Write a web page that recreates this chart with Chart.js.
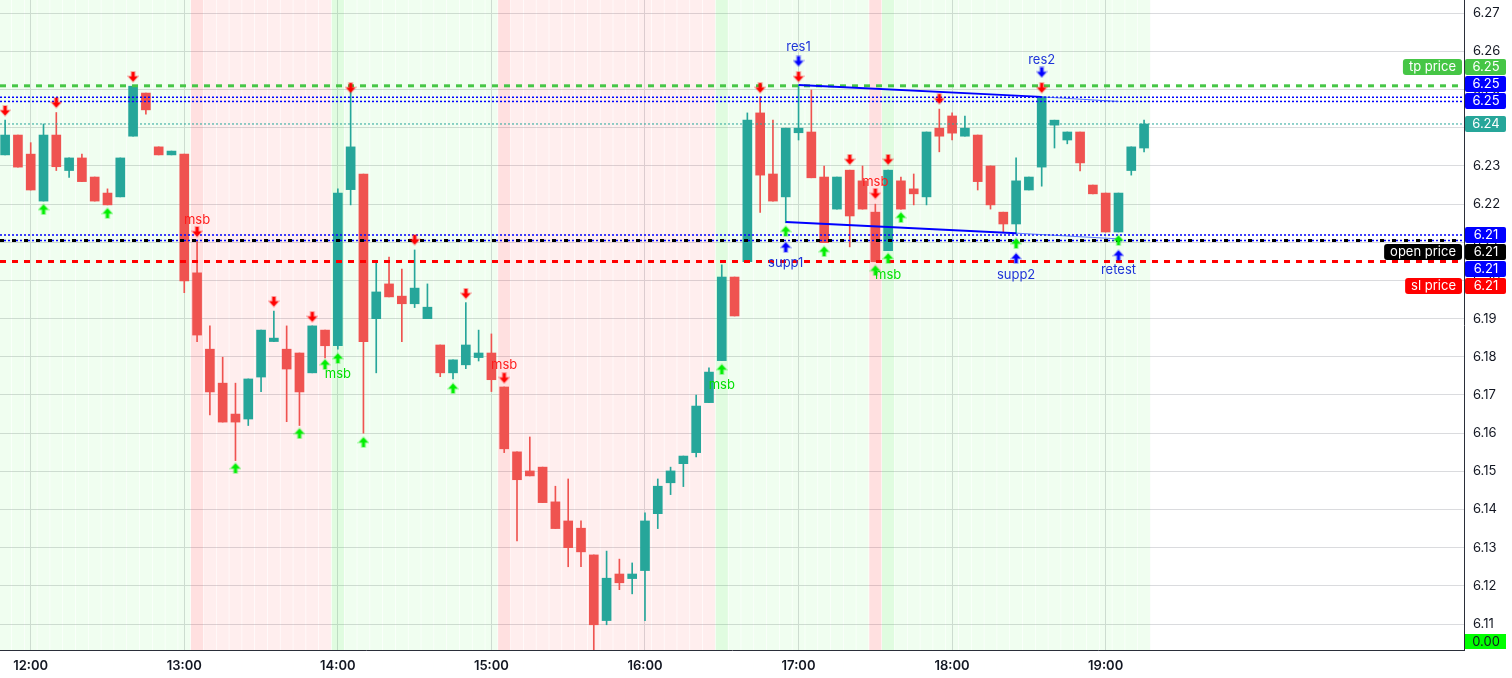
<!DOCTYPE html>
<html>
<head>
<meta charset="utf-8">
<script src="https://cdn.jsdelivr.net/npm/chart.js@4.4.1/dist/chart.umd.min.js"></script>
<style>
  html, body { margin: 0; padding: 0; background: #fff; }
  canvas { display: block; }
</style>
</head>
<body>
<canvas id="chart" width="1512" height="678"></canvas>
<script>
// 5 minute candles, first one at 11:50 (minutes since midnight)
const startMinute = 710;
const stepMinutes = 5;

const opens = [6.2329,6.2381,6.2331,6.2208,6.2381,6.2288,6.2321,6.2271,6.2229,6.2219,
  6.2378,6.2491,6.2350,6.2329,6.2331,6.2020,6.1820,6.1731,6.1650,6.1637,
  6.1747,6.1840,6.1820,6.1810,6.1758,6.1870,6.1829,6.2238,6.2279,6.1900,
  6.1991,6.1959,6.1939,6.1900,6.1831,6.1758,6.1779,6.1798,6.1810,6.1721,
  6.1551,6.1501,6.1511,6.1420,6.1370,6.1351,6.1281,6.1109,6.1231,6.1219,
  6.1240,6.1389,6.1470,6.1520,6.1549,6.1680,6.1790,6.2009,6.2049,6.2439,
  6.2279,6.2219,6.2387,6.2389,6.2271,6.2187,6.2289,6.2261,6.2179,6.2078,
  6.2261,6.2240,6.2219,6.2399,6.2431,6.2378,6.2381,6.2300,6.2179,6.2148,
  6.2237,6.2297,6.2407,6.2368,6.2389,6.2250,6.2229,6.2127,6.2288,6.2347];
const highs = [6.2420,6.2381,6.2361,6.2410,6.2440,6.2321,6.2331,6.2271,6.2240,6.2321,
  6.2509,6.2491,6.2350,6.2339,6.2331,6.2103,6.1881,6.1799,6.1731,6.1742,
  6.1870,6.1920,6.1881,6.1810,6.1881,6.1870,6.2240,6.2500,6.2279,6.2047,
  6.2061,6.2030,6.2080,6.1991,6.1831,6.1792,6.1942,6.1870,6.1860,6.1721,
  6.1551,6.1590,6.1511,6.1461,6.1480,6.1370,6.1281,6.1291,6.1270,6.1260,
  6.1391,6.1480,6.1511,6.1540,6.1700,6.1771,6.2041,6.2009,6.2439,6.2481,
  6.2420,6.2399,6.2512,6.2499,6.2300,6.2271,6.2289,6.2300,6.2200,6.2289,
  6.2271,6.2279,6.2389,6.2449,6.2439,6.2431,6.2381,6.2300,6.2179,6.2321,
  6.2271,6.2481,6.2420,6.2389,6.2389,6.2250,6.2229,6.2229,6.2350,6.2420];
const lows = [6.2329,6.2297,6.2237,6.2208,6.2288,6.2270,6.2259,6.2208,6.2198,6.2219,
  6.2378,6.2436,6.2329,6.2329,6.1968,6.1840,6.1648,6.1629,6.1528,6.1620,
  6.1709,6.1840,6.1630,6.1620,6.1758,6.1797,6.1820,6.2198,6.1600,6.1758,
  6.1957,6.1840,6.1929,6.1900,6.1748,6.1742,6.1769,6.1789,6.1709,6.1549,
  6.1318,6.1488,6.1418,6.1350,6.1250,6.1250,6.1010,6.1098,6.1190,6.1179,
  6.1109,6.1350,6.1439,6.1460,6.1538,6.1680,6.1790,6.1907,6.2049,6.2178,
  6.2208,6.2151,6.2368,6.2269,6.2099,6.2187,6.2088,6.2187,6.2049,6.2078,
  6.2187,6.2198,6.2198,6.2337,6.2368,6.2378,6.2237,6.2187,6.2127,6.2122,
  6.2237,6.2247,6.2347,6.2358,6.2287,6.2227,6.2127,6.2127,6.2276,6.2337];
const closes = [6.2381,6.2297,6.2237,6.2381,6.2298,6.2321,6.2259,6.2208,6.2198,6.2321,
  6.2509,6.2447,6.2329,6.2339,6.1999,6.1857,6.1708,6.1629,6.1629,6.1742,
  6.1870,6.1849,6.1768,6.1708,6.1881,6.1829,6.2229,6.2350,6.1840,6.1970,
  6.1957,6.1939,6.1980,6.1930,6.1758,6.1792,6.1831,6.1810,6.1740,6.1559,
  6.1478,6.1488,6.1418,6.1350,6.1300,6.1289,6.1098,6.1220,6.1208,6.1231,
  6.1370,6.1461,6.1501,6.1540,6.1671,6.1760,6.2009,6.1907,6.2420,6.2276,
  6.2208,6.2399,6.2399,6.2269,6.2099,6.2271,6.2169,6.2187,6.2049,6.2289,
  6.2187,6.2227,6.2389,6.2378,6.2386,6.2399,6.2259,6.2198,6.2148,6.2261,
  6.2271,6.2481,6.2420,6.2389,6.2308,6.2227,6.2127,6.2229,6.2350,6.2410];

// signals (candle index + price where the marker sits)
const sellIdx = [0,4,10,15,21,24,27,32,36,39,59,62,66,68,69,73,81];
const sellPrice = [6.2444,6.2465,6.2533,6.2127,6.1944,6.1904,6.2504,6.2106,6.1965,6.1744,6.2504,6.2533,6.2316,6.2227,6.2316,6.2475,6.2504];
const buyIdx = [3,8,18,23,25,26,28,35,56,61,64,68,69,70,79,87];
const buyPrice = [6.2187,6.2177,6.1509,6.1600,6.1781,6.1797,6.1577,6.1718,6.1768,6.2130,6.2077,6.2027,6.2059,6.2166,6.2098,6.2106];

const resIdx = [62, 81];
const resArrowPrice = [6.2574, 6.2545];
const resText = ['res1', 'res2'];
const resTextPrice = [6.2612, 6.2578];
const suppIdx = [61, 79, 87];
const suppArrowPrice = [6.2088, 6.2059, 6.2067];
const suppText = ['supp1', 'supp2', 'retest'];
const suppTextPrice = [6.2046, 6.2014, 6.2027];

const bearMsbIdx = [15, 39, 68];
const bearMsbPrice = [6.2158, 6.1779, 6.2258];
const bullMsbIdx = [26, 56, 69];
const bullMsbPrice = [6.1755, 6.1726, 6.2014];

// trend lines
const resLineIdx = [62, 81, 87];
const resLineVal = [6.2512, 6.2481, 6.2469];
const suppLineIdx = [61, 79, 87];
const suppLineVal = [6.2153, 6.2124, 6.2109];

// horizontal levels
const lastClose = closes[closes.length - 1];
const levelValues = [6.2510, 6.2480, 6.2469, lastClose, 6.2119, 6.2105, 6.2105, 6.2050];
const levelTags = ['tp price', '', '', '', '', 'open price', '', 'sl price'];
const lastLevel = 3;

const priceTicks = [6.11,6.12,6.13,6.14,6.15,6.16,6.17,6.18,6.19,6.20,6.21,6.22,6.23,6.24,6.25,6.26,6.27];
const hourTicks = [720, 780, 840, 900, 960, 1020, 1080, 1140];

const yMin = 6.10319, yMax = 6.27348;
const xMin = 708, xMax = 1280;

const up = '#26a69a', down = '#ef5350';
const blue = '#0000ff';
const levelStyles = [
  { color: '#46c646', dash: [6, 6], width: 3 },
  { color: blue, dash: [2, 2], width: 1.5 },
  { color: blue, dash: [2, 2], width: 1.5 },
  { color: up, dash: [2, 2], width: 1 },
  { color: blue, dash: [2, 2], width: 1.5 },
  { color: '#000000', dash: [4, 8], width: 3 },
  { color: blue, dash: [2, 2], width: 1.5 },
  { color: '#ff0000', dash: [6, 6], width: 3 }
];

const timeOf = i => startMinute + stepMinutes * i;
const font = 'Inter, "Noto Sans", sans-serif';
Chart.defaults.font.family = font;

function arrowImage(color, pointUp) {
  let c = document.createElement('canvas');
  c.width = 12; c.height = 12;
  let g = c.getContext('2d');
  if (pointUp) { g.translate(0, 12); g.scale(1, -1); }
  g.beginPath();
  g.moveTo(4.5, 1); g.lineTo(7.5, 1); g.lineTo(7.5, 5.5); g.lineTo(10.5, 5.5);
  g.lineTo(6, 10.5); g.lineTo(1.5, 5.5); g.lineTo(4.5, 5.5); g.closePath();
  g.globalAlpha = 0.3;
  g.strokeStyle = color; g.lineWidth = 2; g.stroke();
  g.globalAlpha = 1;
  g.fillStyle = color; g.fill();
  return c;
}

// background zone of each candle
let bandColors = [];
let zone = 'bull';
for (let i = 0; i < opens.length; i++) {
  if (bearMsbIdx.includes(i)) { zone = 'bear'; bandColors.push('rgba(255, 0, 0, 0.12)'); }
  else if (bullMsbIdx.includes(i)) { zone = 'bull'; bandColors.push('rgba(0, 230, 0, 0.12)'); }
  else bandColors.push(zone === 'bull' ? 'rgba(0, 230, 0, 0.06)' : 'rgba(255, 0, 0, 0.065)');
}
let candleColors = opens.map((o, i) => closes[i] >= o ? up : down);

function points(idx, vals) {
  return idx.map((k, j) => ({ x: timeOf(k), y: vals[j] }));
}

let datasets = [];
datasets.push({
  type: 'bar', order: 100, grouped: false, barThickness: 11.6,
  data: opens.map((o, i) => ({ x: timeOf(i), y: [yMin, yMax] })),
  backgroundColor: bandColors
});
datasets.push({
  type: 'bar', order: 40, grouped: false, barThickness: 1,
  data: opens.map((o, i) => ({ x: timeOf(i), y: [lows[i], highs[i]] })),
  backgroundColor: candleColors
});
datasets.push({
  type: 'bar', order: 30, grouped: false, barThickness: 9, minBarLength: 1,
  data: opens.map((o, i) => ({ x: timeOf(i), y: [o, closes[i]] })),
  backgroundColor: candleColors
});
levelValues.forEach((v, i) => {
  let st = levelStyles[i];
  datasets.push({
    type: 'line', order: i === 6 ? 21 : 20, pointRadius: 0,
    data: [{ x: xMin, y: v }, { x: xMax, y: v }],
    borderColor: st.color, borderDash: st.dash, borderWidth: st.width
  });
});
[[resLineIdx, resLineVal], [suppLineIdx, suppLineVal]].forEach(([idx, vals]) => {
  datasets.push({
    type: 'line', order: 12, pointRadius: 0, borderColor: blue, borderWidth: 2,
    data: points(idx.slice(0, 2), vals.slice(0, 2))
  });
  datasets.push({
    type: 'line', order: 12, pointRadius: 0, borderColor: 'rgba(40, 70, 255, 0.7)', borderWidth: 1,
    data: points(idx.slice(1), vals.slice(1))
  });
});
const markerSets = [
  [sellIdx, sellPrice, arrowImage('#ff0000', false)],
  [buyIdx, buyPrice, arrowImage('#00ee00', true)],
  [resIdx, resArrowPrice, arrowImage(blue, false)],
  [suppIdx, suppArrowPrice, arrowImage(blue, true)]
];
markerSets.forEach(([idx, vals, img]) => {
  datasets.push({
    type: 'line', order: 5, showLine: false, clip: false,
    data: points(idx, vals), pointStyle: img, pointRadius: 6
  });
});

// text labels next to the markers
const textLabels = [];
resIdx.forEach((k, j) => textLabels.push([k, resTextPrice[j], resText[j], '#1d33d8']));
suppIdx.forEach((k, j) => textLabels.push([k, suppTextPrice[j], suppText[j], '#1d33d8']));
bearMsbIdx.forEach((k, j) => textLabels.push([k, bearMsbPrice[j], 'msb', '#ff1a1a']));
bullMsbIdx.forEach((k, j) => textLabels.push([k, bullMsbPrice[j], 'msb', '#00e000']));

const textPlugin = {
  id: 'texts',
  afterDatasetsDraw(chart) {
    let ctx = chart.ctx, xs = chart.scales.x, ys = chart.scales.y;
    ctx.save();
    ctx.font = '13px ' + font;
    ctx.textAlign = 'center';
    ctx.textBaseline = 'middle';
    textLabels.forEach(([k, v, t, c]) => {
      ctx.fillStyle = c;
      ctx.fillText(t, xs.getPixelForValue(timeOf(k)), ys.getPixelForValue(v));
    });
    ctx.restore();
  }
};

function roundBox(ctx, x, y, w, h, r, color) {
  ctx.beginPath();
  ctx.moveTo(x + r, y);
  ctx.lineTo(x + w - r, y); ctx.quadraticCurveTo(x + w, y, x + w, y + r);
  ctx.lineTo(x + w, y + h - r); ctx.quadraticCurveTo(x + w, y + h, x + w - r, y + h);
  ctx.lineTo(x + r, y + h); ctx.quadraticCurveTo(x, y + h, x, y + h - r);
  ctx.lineTo(x, y + r); ctx.quadraticCurveTo(x, y, x + r, y);
  ctx.closePath();
  ctx.fillStyle = color;
  ctx.fill();
}

const tagH = 17;
const tagsPlugin = {
  id: 'tags',
  afterDraw(chart) {
    let ctx = chart.ctx, ys = chart.scales.y, area = chart.chartArea;
    let items = levelValues.map((v, i) => ({ i, y: ys.getPixelForValue(v) }));
    items.sort((a, b) => a.y - b.y);
    let a = items.findIndex(it => it.i === lastLevel);
    for (let k = a - 1; k >= 0; k--) items[k].y = Math.min(items[k].y, items[k + 1].y - tagH);
    for (let k = a + 1; k < items.length; k++) items[k].y = Math.max(items[k].y, items[k - 1].y + tagH);

    ctx.save();
    ctx.font = '13px ' + font;
    ctx.textBaseline = 'middle';
    ctx.textAlign = 'center';
    let bx = area.right + 1;
    items.forEach(it => {
      let st = levelStyles[it.i];
      let cy = Math.round(it.y);
      roundBox(ctx, bx, cy - 8, 41, 16, 2, st.color);
      ctx.fillStyle = '#ffffff';
      ctx.fillText(levelValues[it.i].toFixed(2), bx + 21, cy + 0.5);
      let tag = levelTags[it.i];
      if (tag) {
        let w = ctx.measureText(tag).width + 12;
        roundBox(ctx, area.right - 2 - w, cy - 8, w, 16, 3, st.color);
        ctx.fillStyle = '#ffffff';
        ctx.fillText(tag, area.right - 2 - w / 2, cy + 0.5);
      }
    });
    // indicator value at the bottom of the scale
    roundBox(ctx, bx, area.bottom - 16, 41, 15, 0, '#00ff00');
    ctx.fillStyle = '#131722';
    ctx.fillText('0.00', bx + 21, area.bottom - 8);
    ctx.restore();
  }
};

function noPad(s) {
  s.paddingTop = 0; s.paddingBottom = 0; s.paddingLeft = 0; s.paddingRight = 0;
}

const gridColor = '#dadbde';
new Chart(document.getElementById('chart'), {
  type: 'bar',
  data: { datasets },
  options: {
    responsive: false,
    animation: false,
    events: [],
    layout: { padding: 0, autoPadding: false },
    plugins: { legend: { display: false }, tooltip: { enabled: false } },
    scales: {
      x: {
        type: 'linear', min: xMin, max: xMax, offset: false,
        grid: { color: gridColor, drawTicks: false, offset: false },
        border: { color: '#2a2e39', width: 1 },
        ticks: {
          autoSkip: false, maxRotation: 0, padding: 8, color: '#131722',
          font: { size: 13, weight: '600' },
          callback: v => Math.floor(v / 60) + ':' + String(v % 60).padStart(2, '0')
        },
        afterBuildTicks: s => { s.ticks = hourTicks.map(v => ({ value: v })); },
        afterFit: s => { s.height = 28; noPad(s); }
      },
      y: {
        type: 'linear', position: 'right', min: yMin, max: yMax,
        grid: { color: gridColor, drawTicks: false },
        border: { color: '#2a2e39', width: 1 },
        ticks: {
          padding: 9, color: '#131722', crossAlign: 'near',
          font: { size: 13 },
          callback: v => v.toFixed(2)
        },
        afterBuildTicks: s => { s.ticks = priceTicks.map(v => ({ value: v })); },
        afterFit: s => { s.width = 48; noPad(s); }
      }
    }
  },
  plugins: [textPlugin, tagsPlugin]
});
</script>
</body>
</html>
